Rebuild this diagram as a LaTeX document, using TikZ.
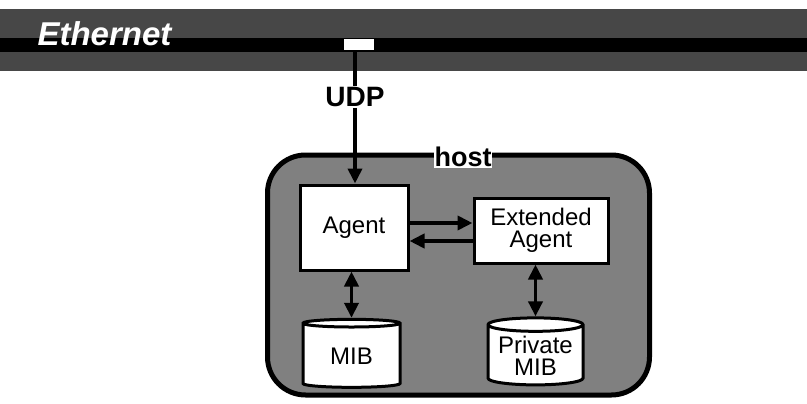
\documentclass[tikz,border=0pt]{standalone}
\usepackage{fontspec}
\setmainfont{Liberation Sans}
\usetikzlibrary{arrows.meta, shapes.geometric}

\begin{document}
\begin{tikzpicture}[x=1pt, y=-1pt, >={Triangle[length=15pt, width=14pt]}]
	\tikzstyle{box} = [draw=black, rectangle, line width=3pt, fill=white, inner sep=2pt, align=center, font=\fontsize{24}{25}\selectfont]
	\tikzstyle{store} = [draw=black, cylinder, shape border rotate=90, aspect=0.18, line width=3pt, fill=white, inner sep=0pt, align=center, font=\fontsize{24}{25}\selectfont]
	\tikzstyle{arr} = [line width=3.8pt]
	\tikzstyle{lbl} = [font=\fontsize{28}{30}\selectfont\bfseries, inner sep=1pt]

	\useasboundingbox (0,0) rectangle (807,404);

	% the network
	\fill[black!72] (0,9) rectangle (807,71);
	\fill[black] (0,38) rectangle (807,52);
	\node[anchor=west, text=white, font=\fontsize{33}{34}\selectfont\bfseries\itshape]	at (34,34)	(eth)	{Ethernet};
	\node[fill=white, minimum width=30pt, minimum height=11pt, inner sep=0pt]	at (359,44.5)	(tap)	{};

	% the host
	\node[draw=black, rectangle, rounded corners=38pt, line width=5pt, fill=black!50, minimum width=382pt, minimum height=240pt]	at (458.5,275)	(host)	{};
	\node[lbl, fill=white, font=\fontsize{27}{28}\selectfont\bfseries]	at (463,157)	(hostlbl)	{host};

	\node[lbl, fill=white]			at (355,97)		(udp)	{UDP};
	\node[box, minimum width=108pt, minimum height=85pt]	at (354,227.5)	(agent)	{Agent};
	\node[box, minimum width=134pt, minimum height=65pt]	at (541,230.5)	(ext)	{Extended\\[-3pt]Agent};
	\node[store, minimum width=97pt, minimum height=68pt]	at (351.5,356)	(mib)	{MIB};
	\node[store, minimum width=95pt, minimum height=67pt]	at (535.5,355.5)	(pmib)	{Private\\[-3pt]MIB};

	\draw[arr] (udp.north |- tap.south) -- (udp.north);
	\draw[arr, ->] (udp.south) -- (udp.south |- agent.north);
	\draw[arr, ->] ([yshift=4.5pt]agent.east) -- ([yshift=4.5pt]agent.east -| ext.west);
	\draw[arr, ->] ([yshift=-13.5pt]agent.east -| ext.west) -- ([yshift=-13.5pt]agent.east);
	\draw[arr, <->] (agent.south -| mib.north) -- (mib.north);
	\draw[arr, <->] (ext.south -| pmib.north) -- (pmib.north);
\end{tikzpicture}
\end{document}
